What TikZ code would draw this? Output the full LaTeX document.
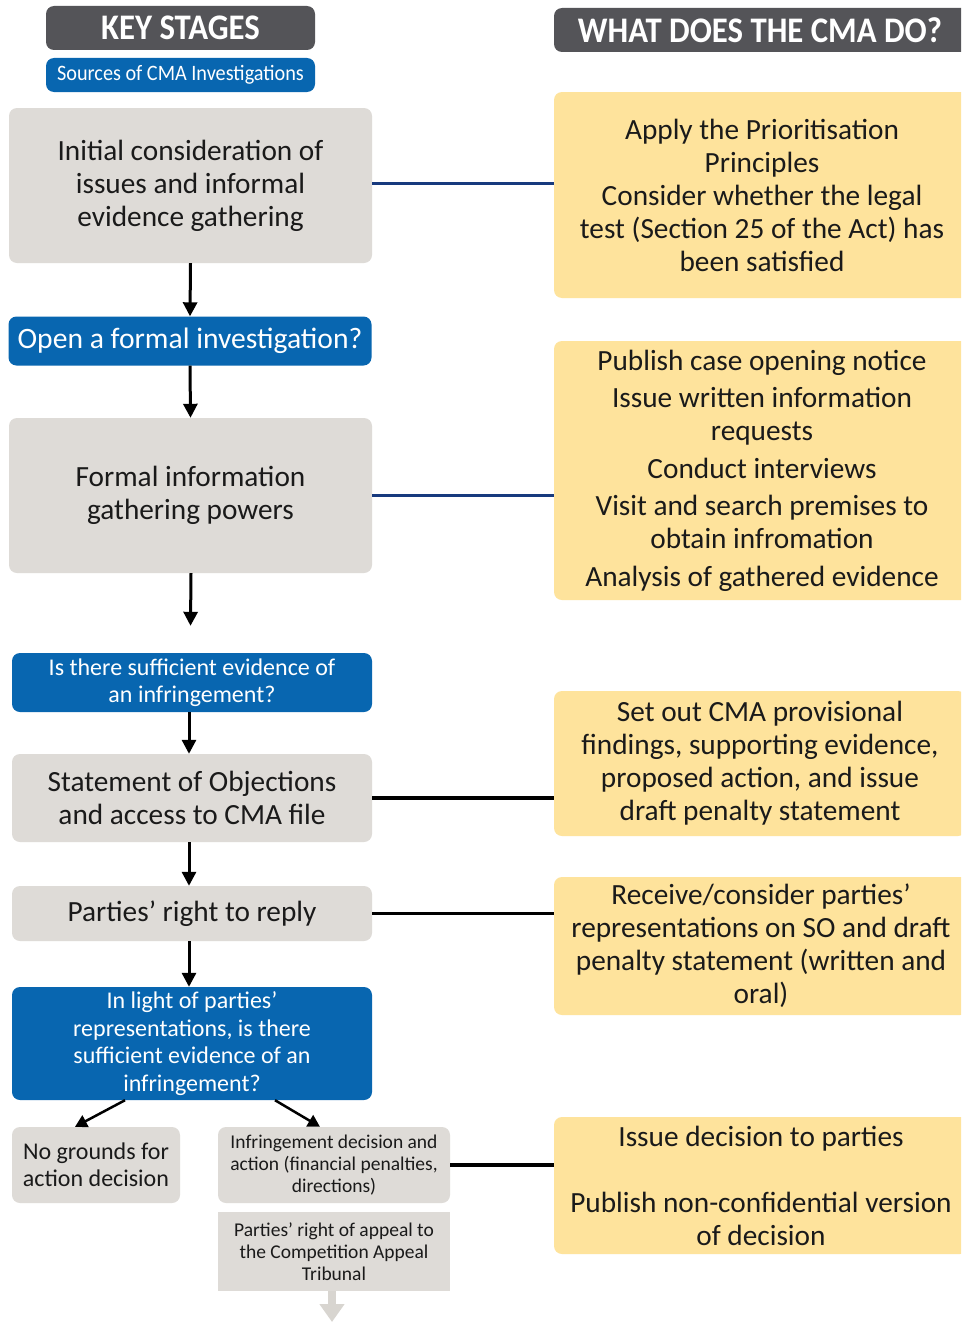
\documentclass[tikz,border=0pt]{standalone}
\usepackage{fontspec}
\setmainfont{Carlito}
\newfontfamily\hdfont[FakeStretch=0.91]{Carlito}
\newfontfamily\srcfont[FakeStretch=0.92]{Carlito}
\usetikzlibrary{arrows.meta,calc}
\definecolor{hdgray}{HTML}{545458}
\definecolor{cmablue}{HTML}{0866B0}
\definecolor{boxgray}{HTML}{DEDBD7}
\definecolor{boxyel}{HTML}{FEE39C}
\definecolor{navy}{HTML}{173A7E}
\definecolor{txt}{HTML}{1A1A1A}
\definecolor{apgray}{HTML}{D8D5D0}
\tikzset{
  x=1pt,y=-1pt,
  hd/.style={fill=hdgray,rounded corners=8pt,text=white,font=\hdfont\bfseries\fontsize{36}{40}\selectfont,inner sep=0pt},
  bluebox/.style={fill=cmablue,rounded corners=8pt,text=white,align=center,inner sep=0pt},
  graybox/.style={fill=boxgray,rounded corners=8pt,text=txt,align=center,inner sep=0pt,font=\fontsize{29.3}{33}\selectfont},
  yelbox/.style={fill=boxyel,rounded corners=8pt,text=txt,align=center,inner sep=0pt,font=\fontsize{29.3}{33}\selectfont,minimum width=416pt},
  arr/.style={line width=3pt,-{Triangle[width=14pt,length=14pt]}},
  navyline/.style={line width=3pt,draw=navy},
  blkline/.style={line width=3.5pt,draw=black},
}
\begin{document}
\begin{tikzpicture}
\clip (0,0) rectangle (961,1322);
\fill[white] (0,0) rectangle (961,1322);
% headers
\node[hd,minimum width=269pt,minimum height=44pt] (h1) at (180.5,28) {KEY STAGES};
\node[bluebox,minimum width=269pt,minimum height=34pt,font=\srcfont\fontsize{22}{24}\selectfont] (src) at (180.5,75) {Sources of CMA Investigations};
\node[hd,minimum width=430pt,minimum height=44pt] (h2) at (769,30) {\hspace*{-18pt}WHAT DOES THE CMA DO?};
% left column
\node[graybox,minimum width=363pt,minimum height=155pt] (g1) at (190.5,185.5) {Initial consideration of\\issues and informal\\evidence gathering};
\node[bluebox,minimum width=363pt,minimum height=49pt,font=\fontsize{29.6}{32}\selectfont] (b2) at (190,341) {Open a formal investigation?};
\node[graybox,minimum width=363pt,minimum height=155pt] (g2) at (190.5,495.5) {Formal information\\gathering powers};
\node[bluebox,minimum width=360pt,minimum height=59pt,font=\fontsize{24}{27}\selectfont] (b3) at (192,682.5) {Is there sufficient evidence of\\an infringement?};
\node[graybox,minimum width=360pt,minimum height=88pt] (g4) at (192,798) {Statement of Objections\\and access to CMA file};
\node[graybox,minimum width=360pt,minimum height=55pt] (g5) at (192,913.5) {Parties' right to reply};
\node[bluebox,minimum width=360pt,minimum height=113pt,font=\fontsize{24}{27.4}\selectfont] (b6) at (192,1043.5) {In light of parties'\\representations, is there\\sufficient evidence of an\\infringement?};
\node[graybox,minimum width=168pt,minimum height=76pt,font=\fontsize{24}{27}\selectfont] (ng) at (96,1165) {No grounds for\\action decision};
\node[graybox,minimum width=232pt,minimum height=76pt,font=\fontsize{19.5}{22}\selectfont] (inf) at (334,1165) {Infringement decision and\\action (financial penalties,\\directions)};
\node[graybox,rounded corners=0pt,minimum width=232pt,minimum height=79pt,font=\fontsize{19.5}{22}\selectfont] (ap) at (334,1251.5) {Parties' right of appeal to\\the Competition Appeal\\Tribunal};
\coordinate (apend) at (332,1322);
% right column
\node[yelbox,minimum height=206pt] (y1) at (762,195) {Apply the Prioritisation\\Principles\\Consider whether the legal\\test (Section 25 of the Act) has\\been satisfied};
\node[yelbox,minimum height=259pt] (y2) at (762,470.5) {Publish case opening notice\\[4pt]Issue written information\\requests\\[5pt]Conduct interviews\\[4pt]Visit and search premises to\\obtain infromation\\[5pt]Analysis of gathered evidence};
\node[yelbox,minimum width=412pt,minimum height=145pt] (y3) at (760,763.5) {Set out CMA provisional\\findings, supporting evidence,\\proposed action, and issue\\draft penalty statement};
\node[yelbox,minimum width=414pt,minimum height=138pt] (y4) at (761,946) {Receive/consider parties'\\representations on SO and draft\\penalty statement (written and\\oral)};
\node[yelbox,minimum width=414pt,minimum height=137pt] (y5) at (761,1185.5) {Issue decision to parties\\[33pt]Publish non-confidential version\\of decision};
% arrows
\draw[arr] (g1.south) -- (b2.north);
\draw[arr] (b2.south) -- (g2.north);
\draw[arr] ([xshift=0.5pt]g2.south) -- ([xshift=-1.5pt,yshift=27pt]b3.north);
\draw[arr] ([xshift=-3pt]b3.south) -- ([xshift=-3pt]g4.north);
\draw[arr] ([xshift=-3pt]g4.south) -- ([xshift=-3pt]g5.north);
\draw[arr] ([xshift=-3pt]g5.south) -- ([xshift=-3pt]b6.north);
\draw[line width=2.5pt,-{Triangle[width=13pt,length=12pt]}] ([xshift=-67pt]b6.south) -- ([xshift=-21pt]ng.north);
\draw[line width=2.5pt,-{Triangle[width=13pt,length=12pt]}] ([xshift=83pt]b6.south) -- ([xshift=-14pt]inf.north);
\draw[line width=8pt,draw=apgray,-{Triangle[width=24pt,length=18pt]}] ([xshift=-2pt]ap.south) -- (apend);
% connectors
\draw[navyline] ([yshift=2pt]g1.east) -- ([yshift=2pt]g1.east -| y1.west);
\draw[navyline] (g2.east) -- (g2.east -| y2.west);
\draw[blkline] (g4.east) -- (g4.east -| y3.west);
\draw[blkline] (g5.east) -- (g5.east -| y4.west);
\draw[blkline] (inf.east) -- (inf.east -| y5.west);
\end{tikzpicture}
\end{document}
